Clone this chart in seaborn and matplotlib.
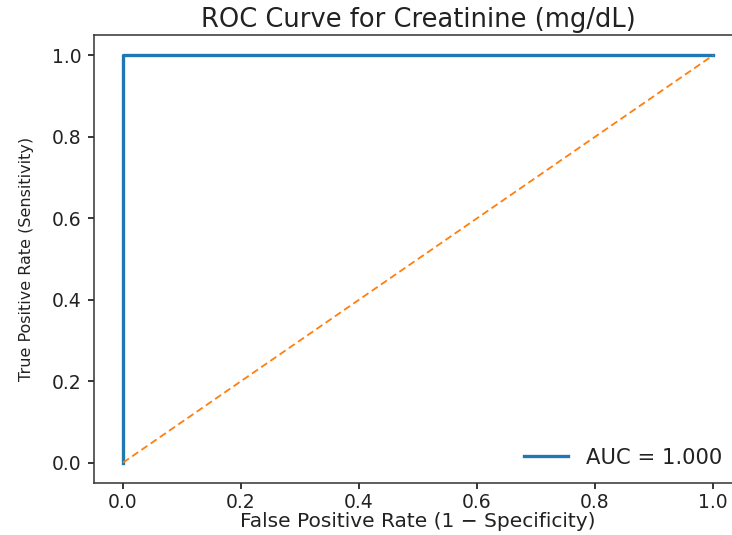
import matplotlib
matplotlib.use("Agg")
import matplotlib.pyplot as plt
import numpy as np
import pandas as pd
import seaborn as sns

# ROC curve points
fpr = [0.0, 0.0, 1.0]
tpr = [0.0, 1.0, 1.0]
auc_value = 1.000

# chance diagonal
diag_x = [0.0, 1.0]
diag_y = [0.0, 1.0]

df = pd.DataFrame({"fpr": fpr, "tpr": tpr})

fig = plt.figure(figsize=(7.32, 5.35), dpi=100)
W, H = 732, 535
left, right, top, bottom = 93.5, 742.5, 35, 483
ax = fig.add_axes([left / W, 1 - bottom / H, (right - left) / W, (bottom - top) / H])

sns.lineplot(data=df, x="fpr", y="tpr", sort=False, estimator=None,
             color="#1f77b4", linewidth=2.4, label=f"AUC = {auc_value:.3f}", ax=ax)
ax.plot(diag_x, diag_y, linestyle="--", color="#ff7f0e", linewidth=1.3,
        dashes=(4, 2.2))

ax.set_xlim(-0.05, 1.05)
ax.set_ylim(-0.05, 1.05)
ax.set_xticks([0.0, 0.2, 0.4, 0.6, 0.8, 1.0])
ax.set_yticks([0.0, 0.2, 0.4, 0.6, 0.8, 1.0])
ax.tick_params(labelsize=13.5, labelcolor="#222222", length=4.5, width=1.1)
ax.tick_params(axis="x", pad=2.5)
ax.tick_params(axis="y", pad=4)
ax.spines["right"].set_visible(False)
for s in ["left", "top", "bottom"]:
    ax.spines[s].set_linewidth(1.1)
    ax.spines[s].set_color("#333333")

ax.set_title("ROC Curve for Creatinine (mg/dL)", fontsize=18.5, color="#222222", pad=6)
ax.set_xlabel("False Positive Rate (1 − Specificity)", fontsize=14.5, color="#222222")
ax.xaxis.set_label_coords(0.5, -0.065)
ax.xaxis.label.set_verticalalignment("top")
ax.set_ylabel("True Positive Rate (Sensitivity)", fontsize=11.5, color="#222222", labelpad=13)
leg = ax.legend(loc="lower right", frameon=False, fontsize=15.2,
                bbox_to_anchor=(0.998, -0.008), handlelength=2.1, handletextpad=0.85)
for t in leg.get_texts():
    t.set_color("#222222")

fig.savefig("out.png", dpi=100)
